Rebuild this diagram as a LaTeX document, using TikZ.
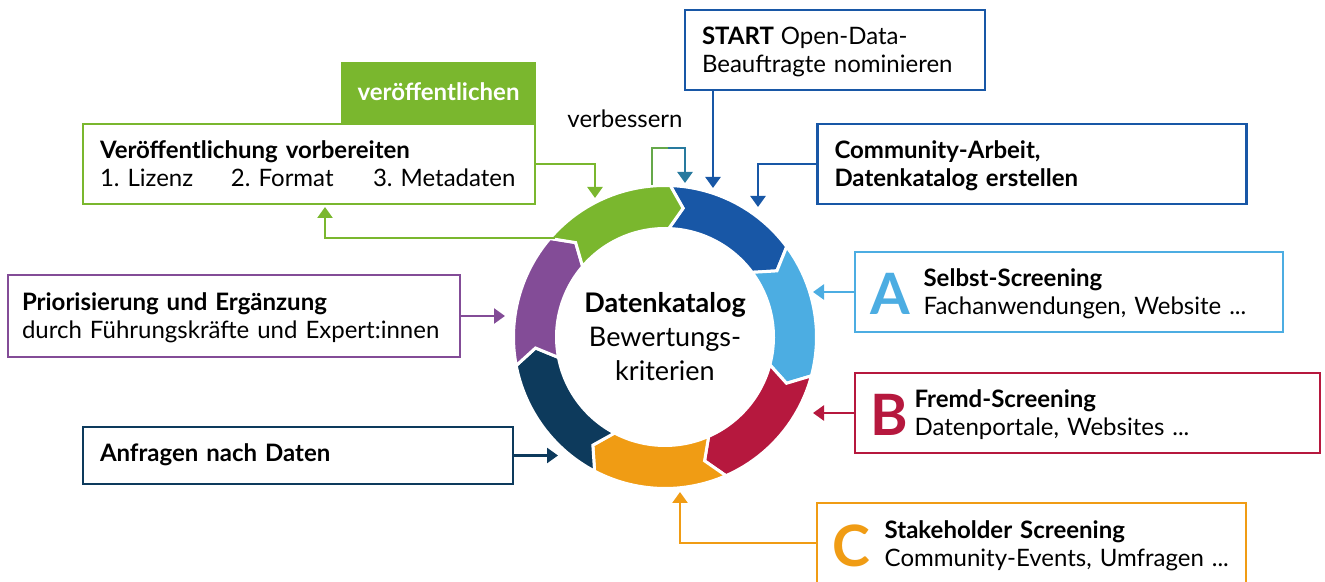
\documentclass[tikz,border=0pt]{standalone}
\usepackage{fontspec}
\setmainfont{Lato}[WordSpace=0.85]
\usetikzlibrary{arrows.meta,positioning,calc}
\frenchspacing

\definecolor{cGreen}{RGB}{122,183,46}
\definecolor{cDarkBlue}{RGB}{24,87,166}
\definecolor{cLightBlue}{RGB}{76,173,226}
\definecolor{cRed}{RGB}{182,24,62}
\definecolor{cOrange}{RGB}{240,156,20}
\definecolor{cNavy}{RGB}{13,58,92}
\definecolor{cPurple}{RGB}{131,76,151}
\definecolor{cTeal}{RGB}{40,122,158}

% ring radii
\newcommand{\Rout}{151.5}
\newcommand{\Rin}{108.5}
\newcommand{\Rmid}{130}

% one arrow shaped piece of the ring, clockwise from #2 to #3
\newcommand{\ringpart}[3]{%
  \fill[#1, draw=white, line width=3pt]
    (#2:\Rout) arc[start angle=#2, end angle=#3, radius=\Rout]
    -- ({#3-6}:\Rmid) -- (#3:\Rin)
    arc[start angle=#3, end angle=#2, radius=\Rin]
    -- ({#2-6}:\Rmid) -- cycle;}

% big coloured letter in front of a box text
\newcommand{\bigletter}[2]{{\color{#1}\fontsize{57}{57}\selectfont\bfseries #2}}

\tikzset{
  box/.style={draw=#1, line width=2.5pt, fill=white, align=left,
    inner xsep=17pt, inner ysep=0pt, minimum height=80pt,
    text height=19pt, text depth=29pt,
    font=\fontsize{24}{28}\selectfont},
  letterbox/.style={box=#1, inner xsep=15pt, text height=54pt, text depth=8pt},
  link/.style={draw=#1, line width=2.5pt, -{Triangle[width=15pt,length=11pt]}},
}

\begin{document}
\begin{tikzpicture}[x=1pt,y=1pt]
    \useasboundingbox (0,0) rectangle (1325,581);
    \clip (0,0) rectangle (1325,581);

    % Ring
    \begin{scope}[shift={(665,244)}]
        \ringpart{cDarkBlue}{88}{36.571}
        \ringpart{cLightBlue}{36.571}{-14.857}
        \ringpart{cRed}{-14.857}{-66.286}
        \ringpart{cOrange}{-66.286}{-117.714}
        \ringpart{cNavy}{-117.714}{-169.143}
        \ringpart{cPurple}{-169.143}{-220.571}
        \ringpart{cGreen}{139.429}{88}
    \end{scope}
    \node[align=center, font=\fontsize{27}{34}\selectfont] (katalog) at (665,244)
        {\textbf{Datenkatalog}\\Bewertungs-\\kriterien};

    % Boxes on the right
    \node[box=cDarkBlue, text width=266pt] (start) at (835,531)
        {\textbf{START}\hspace{7pt}Open-Data-\\Beauftragte nominieren};
    \node[box=cDarkBlue, text width=395pt, font=\fontsize{24}{28}\selectfont\bfseries] (community) at (1032,417)
        {Community-Arbeit,\\Datenkatalog erstellen};
    \node[letterbox=cLightBlue, text width=398pt] (selbst) at (1069,289)
        {\bigletter{cLightBlue}{A}\hspace{14pt}\begin{tabular}[b]{@{}l@{}}\textbf{Selbst-Screening}\\Fachanwendungen, Website ...\end{tabular}};
    \node[letterbox=cRed, text width=435pt] (fremd) at (1087.5,168)
        {\bigletter{cRed}{B}\hspace{7pt}\begin{tabular}[b]{@{}l@{}}\textbf{Fremd-Screening}\\Datenportale, Websites ...\end{tabular}};
    \node[letterbox=cOrange, text width=399pt] (stakeholder) at (1031.5,38)
        {\bigletter{cOrange}{C}\hspace{15pt}\begin{tabular}[b]{@{}l@{}}\textbf{Stakeholder Screening}\\Community-Events, Umfragen ...\end{tabular}};

    % Boxes on the left
    \node[box=cNavy, text width=396pt, minimum height=57pt, text height=18pt, text depth=5pt] (anfragen) at (298,125.5)
        {\textbf{Anfragen nach Daten}};
    \node[box=cPurple, inner xsep=14pt, text width=424pt, minimum height=82pt] (prior) at (234,265)
        {\textbf{Priorisierung und Ergänzung}\\durch Führungskräfte und Expert:innen};
    \node[box=cGreen, text width=418pt] (vorb) at (309,417)
        {\textbf{Veröffentlichung vorbereiten}\\\makebox[131pt][l]{1. Lizenz}\makebox[142pt][l]{2. Format}3. Metadaten};
    \node[fill=cGreen, text=white, minimum width=195pt, minimum height=61pt, anchor=south east,
        font=\fontsize{24}{28}\selectfont\bfseries] (publish) at (vorb.north east) {veröffentlichen};

    % Ends of the connectors at the ring
    \coordinate (ringTop) at (713,393);
    \coordinate (ringTR) at (758,374);
    \coordinate (ringA) at (813,288);
    \coordinate (ringB) at (813,168);
    \coordinate (ringC) at (680,89);
    \coordinate (ringD) at (558,123);
    \coordinate (ringP) at (505,265);
    \coordinate (ringG) at (595,383);
    \coordinate (ringOut) at (555,343);
    \coordinate (vorbIn) at (325,374);
    \coordinate (loopOut) at (652,396);
    \coordinate (loopMid) at (668,433);
    \coordinate (loopIn) at (685,398);

    % Connectors
    \draw[link=cDarkBlue] (start.south -| ringTop) -- (ringTop);
    \draw[link=cDarkBlue] (community.west) -| (ringTR);
    \draw[link=cLightBlue] (selbst.west) -- (selbst.west -| ringA);
    \draw[link=cRed] (fremd.west) -- (fremd.west -| ringB);
    \draw[link=cOrange] (stakeholder.west) -| (ringC);
    \draw[link=cNavy] (anfragen.east) -- (anfragen.east -| ringD);
    \draw[link=cPurple] (prior.east) -- (prior.east -| ringP);
    \draw[link=cGreen] (vorb.east) -| (ringG);
    \draw[link=cGreen] (ringOut) -| (vorbIn);

    % verbessern loop
    \draw[line width=2.5pt, draw=cGreen!75!cTeal] (loopOut) |- (loopMid);
    \draw[link=cTeal] (loopMid) -| (loopIn);
    \node[font=\fontsize{24}{28}\selectfont] (verbessern) at (625,462) {verbessern};
\end{tikzpicture}
\end{document}
